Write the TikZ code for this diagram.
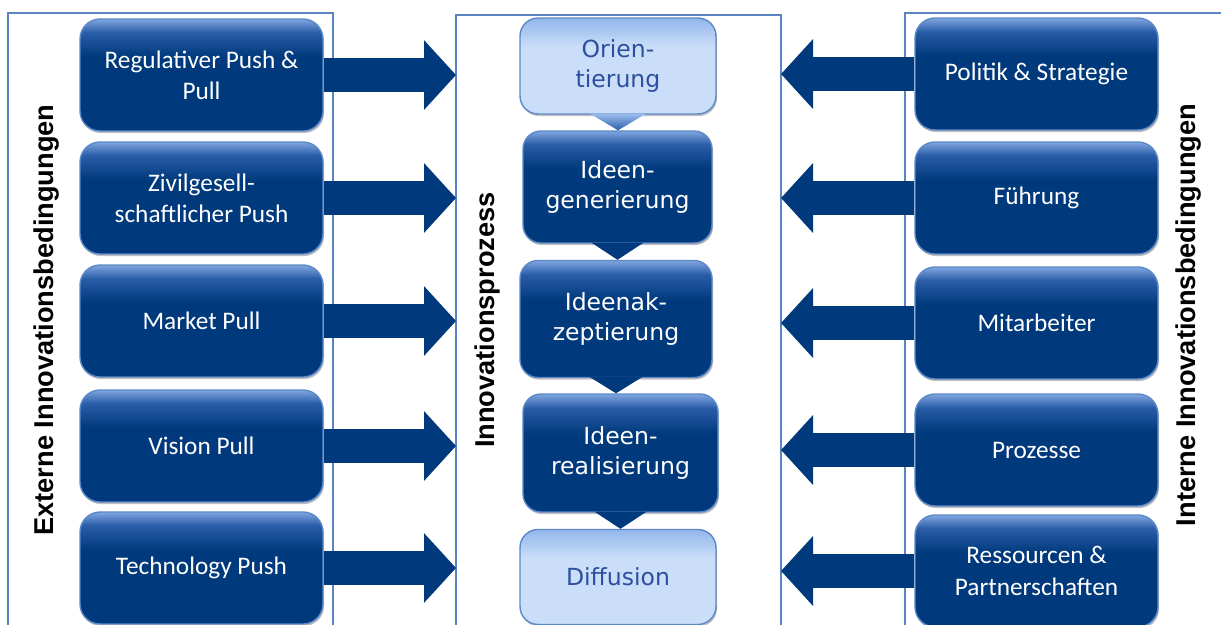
\documentclass[tikz,border=0pt]{standalone}
\usepackage{fontspec}
\newfontfamily\sidefont{Carlito}
\newfontfamily\procfont{DejaVu Sans}
\newfontfamily\headfont{Liberation Sans}
\usetikzlibrary{arrows.meta, positioning, calc, backgrounds, shadows}
\definecolor{boxdark}{HTML}{00397C}
\definecolor{boxmid}{HTML}{2A5DA8}
\definecolor{boxtop}{HTML}{7FA6E0}
\definecolor{boxline}{HTML}{5C88C7}
\definecolor{framec}{HTML}{5A84C2}
\definecolor{lightfill}{HTML}{CADEF9}
\definecolor{lighttop}{HTML}{92B6EB}
\definecolor{lighttext}{HTML}{2C4F9E}
\definecolor{tritop}{HTML}{9ABDEE}
\pgfdeclareverticalshading{darkbox}{100bp}{color(0bp)=(boxdark); color(25bp)=(boxdark);
  color(58bp)=(boxdark); color(69bp)=(boxmid); color(75bp)=(boxtop); color(100bp)=(boxtop)}
\pgfdeclareverticalshading{lightbox}{100bp}{color(0bp)=(lightfill); color(25bp)=(lightfill);
  color(60bp)=(lightfill); color(75bp)=(lighttop); color(100bp)=(lighttop)}
\pgfdeclareverticalshading{lighttri}{100bp}{color(0bp)=(boxmid); color(25bp)=(boxmid);
  color(75bp)=(tritop); color(100bp)=(tritop)}
\tikzset{
  shad/.style = {drop shadow={shadow xshift=0.6pt, shadow yshift=-1.2pt,
    opacity=0.35, fill=black!70}},
  sbox/.style = {rounded corners=0.4cm, draw=boxline, line width=0.8pt,
    shading=darkbox, text=white, align=center, inner sep=0pt,
    minimum width=4.86cm, minimum height=2.24cm, shad,
    font=\sidefont\fontsize{14.4}{17.8}\selectfont},
  pdark/.style = {rounded corners=0.36cm, draw=boxline, line width=0.8pt,
    shading=darkbox, text=white, align=center, inner sep=0pt, shad,
    font=\procfont\fontsize{13.4}{16.6}\selectfont},
  plight/.style = {rounded corners=0.36cm, draw=boxline, line width=0.8pt,
    shading=lightbox, text=lighttext, align=center, inner sep=0pt, shad,
    font=\procfont\fontsize{13.4}{16.6}\selectfont},
  tdark/.style = {fill=boxdark},
  tlight/.style = {shading=lighttri},
  frame/.style = {draw=framec, line width=0.8pt},
  pfeil/.style = {draw=boxdark, line width=0.68cm,
    -{Triangle[length=0.64cm, width=1.36cm]}},
  head/.style = {rotate=90, font=\headfont\bfseries\fontsize{15.5}{18}\selectfont}
}

\begin{document}
\begin{tikzpicture}[x=0.02cm, y=0.02cm]
  \useasboundingbox (0,0) rectangle (1221,-625);
  \coordinate (cw) at (456,0);
  \coordinate (ce) at (781,0);

  % externe Bedingungen
  \node [sbox] (l1) at (201.5,-75) {Regulativer Push \&\\Pull};
  \node [sbox] (l2) at (201.5,-198) {Zivilgesell-\\schaftlicher Push};
  \node [sbox] (l3) at (201.5,-321) {Market Pull};
  \node [sbox] (l4) at (201.5,-446) {Vision Pull};
  \node [sbox] (l5) at (201.5,-568) {Technology Push};

  % interne Bedingungen
  \node [sbox] (r1) at (1036.5,-74) {Politik \& Strategie};
  \node [sbox] (r2) at (1036.5,-198) {Führung};
  \node [sbox] (r3) at (1036.5,-323) {Mitarbeiter};
  \node [sbox] (r4) at (1036.5,-450) {Prozesse};
  \node [sbox] (r5) at (1036.5,-571) {Ressourcen \&\\Partnerschaften};

  % Prozess
  \node [plight, minimum width=3.92cm, minimum height=1.92cm] (c1) at (618,-66) {Orien-\\tierung};
  \node [pdark, minimum width=3.78cm, minimum height=2.24cm] (c2) at (617.5,-187) {Ideen-\\generierung};
  \node [pdark, minimum width=3.84cm, minimum height=2.34cm] (c3) at (616,-319) {Ideenak-\\zeptierung};
  \node [pdark, minimum width=3.9cm, minimum height=2.36cm] (c4) at (620.5,-453) {Ideen-\\realisierung};
  \node [plight, minimum width=3.92cm, minimum height=1.9cm] (c5) at (618,-577) {Diffusion};

  \path [tlight] ($(c1.south)+(-28,1)$) -- ($(c1.south)+(28,1)$) -- (c1.south |- c2.north) -- cycle;
  \fill [tdark] ($(c2.south)+(-26,1)$) -- ($(c2.south)+(26,1)$) -- (c2.south |- c3.north) -- cycle;
  \fill [tdark] ($(c3.south)+(-26,1)$) -- ($(c3.south)+(26,1)$) -- (c3.south |- c4.north) -- cycle;
  \fill [tdark] ($(c4.south)+(-26,1)$) -- ($(c4.south)+(26,1)$) -- (c4.south |- c5.north) -- cycle;

  \node [head] (ext) at (47,-320) {Externe Innovationsbedingungen};
  \node [head] (pro) at (487,-320) {Innovationsprozess};
  \node [head] (int) at (1189,-315) {Interne Innovationsbedingungen};

  \begin{scope}[on background layer]
    \draw [frame] (8,-625) |- (333,-13) -- (333,-625);
    \draw [frame] (456,-625) |- (781,-15) -- (781,-625);
    \draw [frame] (905,-625) |- (1221,-13);
    \foreach \i in {1,...,5} {
      \draw [pfeil] (l\i.east) -- (l\i.east -| cw);
      \draw [pfeil] (r\i.west) -- (r\i.west -| ce);
    }
  \end{scope}
\end{tikzpicture}
\end{document}
